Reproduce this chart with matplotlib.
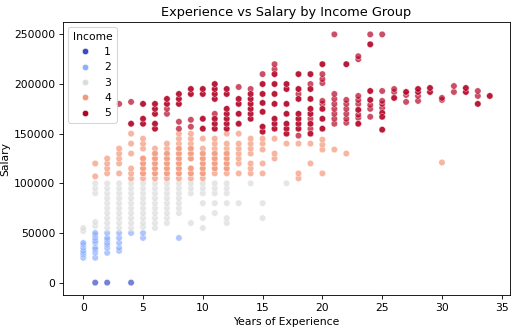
import matplotlib
matplotlib.use("Agg")
import matplotlib.pyplot as plt
import pandas as pd
import seaborn as sns

# Salaries per year of experience, one dict per income group
income1 = {
    1: [0], 2: [0], 4: [0],
}
income2 = {
    0: [25000, 28000, 30000, 32000, 35000, 38000, 40000],
    1: [25000, 30000, 33000, 35000, 40000, 42000, 45000, 48000, 50000],
    2: [30000, 35000, 38000, 40000, 43000, 45000, 50000],
    3: [32000, 35000, 40000, 45000, 50000],
    4: [50000],
    5: [45000, 50000],
    8: [45000],
}
income3 = {
    0: [52000, 55000],
    1: [57000, 61000, 90000, 95000, 100000],
    2: [55000, 60000, 65000, 70000, 75000, 80000, 85000, 90000, 95000, 100000],
    3: [55000, 60000, 65000, 70000, 75000, 80000, 85000, 90000, 95000, 100000],
    4: [55000, 60000, 65000, 70000, 75000, 80000, 85000, 90000, 95000, 100000],
    5: [56000, 60000, 65000, 70000, 75000, 80000, 85000, 90000, 95000, 100000],
    6: [55000, 60000, 65000, 70000, 75000, 80000, 85000, 90000, 95000, 100000],
    7: [60000, 65000, 70000, 75000, 80000, 85000, 90000, 95000, 100000],
    8: [70000, 75000, 80000, 85000, 90000, 95000, 100000],
    9: [60000, 90000, 95000, 100000],
    10: [55000, 65000, 80000, 90000, 95000, 100000],
    11: [70000, 80000, 90000, 95000, 100000],
    12: [60000, 65000, 80000, 90000, 95000, 100000],
    13: [80000],
    14: [100000],
    15: [65000, 80000],
    17: [100000],
}
income4 = {
    1: [107000, 120000],
    2: [110000, 115000, 120000, 125000],
    3: [110000, 120000, 125000, 130000, 135000],
    4: [105000, 110000, 115000, 130000, 140000, 150000],
    5: [105000, 110000, 115000, 120000, 125000, 135000, 140000, 145000],
    6: [105000, 110000, 115000, 120000, 125000, 130000, 135000],
    7: [105000, 110000, 115000, 120000, 125000, 130000, 135000, 140000],
    8: [105000, 110000, 115000, 120000, 125000, 130000, 135000, 140000, 145000, 150000],
    9: [105000, 110000, 115000, 125000, 130000, 135000, 140000, 145000, 150000],
    10: [105000, 110000, 115000, 120000, 125000, 130000, 135000, 145000],
    11: [110000, 115000, 120000, 125000, 130000, 135000, 140000, 145000],
    12: [110000, 115000, 120000, 125000, 130000, 135000, 140000, 150000],
    13: [110000, 120000, 125000, 130000, 135000, 140000, 150000],
    14: [110000, 115000, 120000, 130000, 135000, 140000, 145000],
    15: [110000, 120000, 134000, 140000, 145000],
    16: [125000, 130000, 145000],
    17: [140000],
    18: [105000, 110000, 140000],
    19: [120000, 140000],
    20: [110000, 134000, 139000, 144000],
    21: [134000],
    22: [130000],
    30: [121000],
}
# Salaries that appear more than once (darker, overlapping dots)
income4_repeat = {
    5: [110000, 115000, 120000, 125000],
    6: [110000, 115000, 120000, 125000, 130000],
    7: [110000, 115000, 120000, 125000, 130000],
    8: [110000, 115000, 120000, 125000, 130000, 135000],
    9: [110000, 115000, 125000, 130000, 135000],
    10: [110000, 115000, 120000, 125000, 130000],
    11: [115000, 120000, 125000, 130000],
    12: [115000, 120000, 125000, 130000],
}
income5 = {
    3: [180000],
    4: [160000, 182000],
    5: [160000, 165000, 180000],
    6: [155000, 160000, 170000, 175000, 180000],
    7: [170000, 175000, 180000, 185000],
    8: [155000, 162000, 180000, 185000, 190000],
    9: [157000, 164000, 190000, 195000],
    10: [155000, 165000, 190000, 195000],
    11: [155000, 160000, 165000, 170000, 185000, 190000, 195000, 200000],
    12: [155000, 160000, 165000, 170000, 175000, 190000, 195000],
    13: [160000, 170000, 180000, 185000, 197000],
    14: [165000, 170000, 175000, 180000, 185000, 190000, 195000],
    15: [152000, 157000, 172000, 181000, 190000, 200000, 210000],
    16: [155000, 160000, 165000, 180000, 190000, 200000, 210000, 215000, 220000],
    17: [150000, 155000, 160000, 170000, 180000, 195000, 200000],
    18: [148000, 155000, 160000, 165000, 170000, 185000, 190000, 195000, 210000],
    19: [150000, 155000, 160000, 165000, 170000, 175000, 185000, 195000, 200000, 210000],
    20: [155000, 165000, 175000, 180000, 183000, 201000, 205000, 210000, 220000],
    21: [160000, 165000, 170000, 175000, 180000, 185000, 190000, 250000],
    22: [161000, 165000, 170000, 175000, 180000, 184000, 220000],
    23: [160000, 166000, 169000, 174000, 180000, 184000, 188000, 225000, 228000],
    24: [167000, 175000, 179000, 184000, 193000, 240000, 250000],
    25: [154000, 167000, 171000, 176000, 180000, 183000, 193000, 250000],
    26: [186000, 192000, 195000],
    27: [182000, 189000, 192000],
    28: [183000, 188000, 192000, 195000],
    29: [192000, 196000],
    30: [184000, 186000],
    31: [192000, 198000],
    32: [192000, 196000],
    33: [180000, 188000, 193000],
    34: [188000],
}
income5_repeat = {
    4: [160000],
    5: [160000, 165000, 180000],
    6: [155000, 160000, 170000, 175000, 180000],
    7: [180000, 185000],
    8: [180000, 185000, 190000],
    9: [190000, 195000],
    10: [155000, 165000, 190000, 195000],
    11: [155000, 160000, 165000, 185000, 190000, 195000, 200000],
    12: [155000, 160000, 165000, 170000, 175000, 190000, 195000],
    13: [160000, 170000, 180000, 185000],
    14: [165000, 170000, 175000, 180000, 185000, 190000],
    15: [152000, 157000, 172000, 181000, 190000, 200000],
    16: [155000, 160000, 165000, 180000, 190000, 200000, 210000],
    17: [150000, 155000, 160000, 170000, 180000, 195000, 200000],
    18: [155000, 160000, 165000, 170000, 185000, 195000, 210000],
    19: [150000, 160000, 170000, 175000, 185000, 195000, 210000],
    20: [155000, 165000, 175000, 220000],
    22: [220000],
    23: [174000, 160000],
    24: [184000, 193000, 240000],
    25: [154000, 171000, 167000],
    26: [186000],
    27: [192000],
    28: [192000, 195000],
    29: [192000, 196000],
    32: [192000, 196000],
    33: [180000],
    34: [188000],
}

groups = [(1, income1), (2, income2), (3, income3), (4, income4), (4, income4_repeat),
          (5, income5), (5, income5_repeat)]
rows = []
for inc, table in groups:
    for yr, sals in table.items():
        for s in sals:
            rows.append((yr, s, inc))
df = pd.DataFrame(rows, columns=["Years of Experience", "Salary", "Income"])

fig = plt.figure(figsize=(520 / 77, 333 / 77), dpi=77)
ax = fig.add_axes([0.121, 0.114, 0.86, 0.82])
sns.scatterplot(data=df, x="Years of Experience", y="Salary", hue="Income",
                palette="coolwarm", alpha=0.7, ax=ax)
ax.set_title("Experience vs Salary by Income Group")
leg = ax.legend(title="Income", loc="upper left")
for h in leg.legend_handles:
    h.set_alpha(1)
fig.savefig("out.png", dpi=77)
